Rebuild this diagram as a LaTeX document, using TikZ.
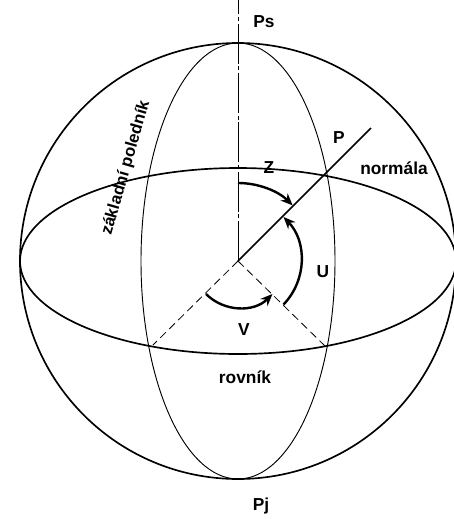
\documentclass[tikz,border=0pt]{standalone}
\usepackage{fontspec}
\setmainfont{Liberation Sans}
\usetikzlibrary{arrows.meta}
\tikzset{
  lbl/.style={font=\bfseries\fontsize{13}{15}\selectfont,inner sep=0pt,text=black},
  thick line/.style={line width=1.25pt,black},
  thin line/.style={line width=0.7pt,black},
  angle arc/.style={line width=1.8pt,black,-{Stealth[length=9pt,width=7.5pt]}},
  guide/.style={line width=0.6pt,black,dash pattern=on 6pt off 3.5pt}
}
\begin{document}
\begin{tikzpicture}[x=0.75pt,y=-0.75pt]
\useasboundingbox (0,0) rectangle (454,519);
\begin{scope}
\clip (0,0) rectangle (454,519);
\coordinate (O) at (238,261);
\coordinate (top) at (238,0);
\coordinate (P) at (371,128);
\coordinate (dl) at (153,345);
\coordinate (dr) at (325,346);
\draw[thick line] (O) circle[radius=218];
\draw[thick line] (O) ellipse[x radius=218,y radius=93];
\draw[thin line] (O) ellipse[x radius=97,y radius=218];
\draw[line width=0.7pt,dash pattern=on 30pt off 2pt on 3pt off 2pt] (O) -- (top);
\draw[line width=1.1pt] (O) -- (P);
\draw[guide] (O) -- (dl);
\draw[guide] (O) -- (dr);
\draw[angle arc] (238,183) arc[start angle=90,end angle=45.5,x radius=78,y radius=-78];
\draw[angle arc] (283.5,304.5) arc[start angle=-44,end angle=44,x radius=63,y radius=-63];
\draw[angle arc] (206,294) arc[start angle=225,end angle=315,x radius=47,y radius=-47];
\end{scope}
\node[lbl] (ps) at (264,22) {Ps};
\node[lbl] (pj) at (261,506) {Pj};
\node[lbl] (p) at (339,138) {P};
\node[lbl] (z) at (269,168) {Z};
\node[lbl] (u) at (323,272) {U};
\node[lbl] (v) at (244,330) {V};
\node[lbl] (nor) at (394,168) {normála};
\node[lbl] (rov) at (245,377) {rovník};
\node[lbl,rotate=74] (zp) at (126,168) {\fontsize{12.5}{15}\selectfont základní poledník};
\end{tikzpicture}
\end{document}
